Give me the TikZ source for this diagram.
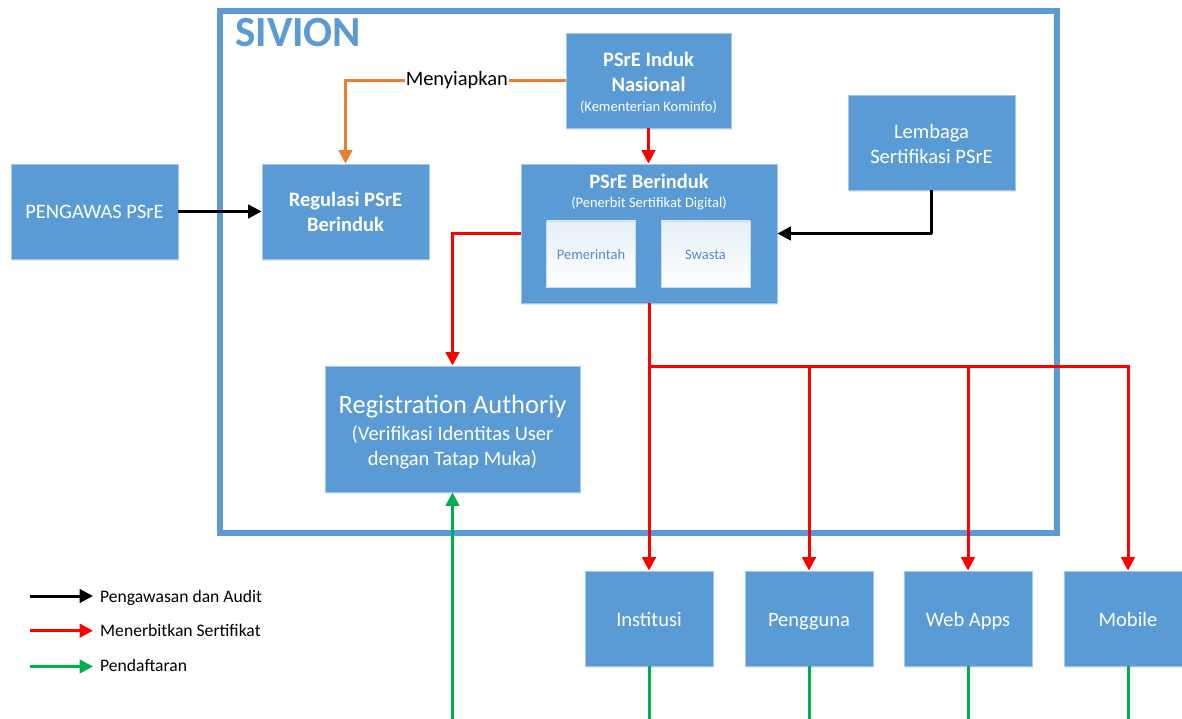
\documentclass[tikz,border=0pt]{standalone}
\usepackage{fontspec}
\setmainfont{Carlito}
\usetikzlibrary{arrows.meta,shadows}
\definecolor{boxblue}{HTML}{5B9BD5}
\definecolor{arred}{HTML}{FF0000}
\definecolor{argreen}{HTML}{00B050}
\definecolor{arorange}{HTML}{ED7D31}
\definecolor{innertext}{HTML}{5A88C8}
\begin{document}
\begin{tikzpicture}[x=1pt,y=-1pt,
  box/.style={rectangle, fill=boxblue, draw=boxblue!55!white, line width=0.8pt, text=white, align=center, inner sep=0pt,
    font=\fontsize{20.5}{25}\selectfont,
    drop shadow={shadow xshift=1.2pt,shadow yshift=-1.8pt,opacity=0.18}},
  bigbox/.style={box, minimum width=167pt, minimum height=95pt},
  onebox/.style={text height=20pt, text depth=5pt},
  tbox/.style={box, onebox, minimum width=128pt, minimum height=95pt},
  innerbox/.style={rectangle, top color=boxblue!16, bottom color=white, draw=boxblue!35, line width=0.6pt,
    text=innertext, font=\fontsize{14.5}{18}\selectfont, minimum width=89pt, minimum height=66pt, inner sep=0pt,
    text height=14pt, text depth=4pt},
  conn/.style={line width=3pt},
  tip/.style={-{Triangle[length=13.5pt,width=13.5pt]}},
  blk/.style={conn, black, line join=round},
  rd/.style={conn, arred},
  gr/.style={conn, argreen},
  org/.style={conn, arorange},
  legtext/.style={anchor=base west, inner sep=0pt, font=\fontsize{17.6}{20}\selectfont}
]
\useasboundingbox (0,0) rectangle (1182,719);

% frame
\node[draw=boxblue, line width=6pt, minimum width=836.7pt, minimum height=521.7pt, inner sep=0pt] (sivion) at (638.65,272.15) {};
\node[anchor=base west, inner sep=0pt, text=boxblue, font=\fontsize{43}{50}\selectfont\bfseries] (sivtitle) at (235,46.7) {SIVION};

% boxes
\node[bigbox, minimum width=165pt, font=\fontsize{20.5}{25}\selectfont\bfseries] (induk) at (648.5,80.5)
  {\rule{0pt}{18.6pt}PSrE Induk\\Nasional\\[-5pt]{\fontsize{14.5}{18}\selectfont\mdseries (Kementerian Kominfo)}};
\node[bigbox, font=\fontsize{20.5}{25}\selectfont\bfseries] (reg) at (345.5,211.5) {Regulasi PSrE\\Berinduk};
\node[bigbox, onebox] (peng) at (94.5,211.5) {PENGAWAS PSrE};
\node[bigbox] (lemb) at (931.5,142.5) {\rule{0pt}{18pt}Lembaga\\Sertifikasi PSrE};

\node[box, minimum width=256pt, minimum height=139pt] (ber) at (649,233.5) {};
\node[anchor=base, inner sep=0pt, text=white, font=\fontsize{20.5}{25}\selectfont\bfseries] (bertitle) at (649,189) {PSrE Berinduk};
\node[anchor=base, inner sep=0pt, text=white, font=\fontsize{14.5}{18}\selectfont] (bersub) at (649,208) {(Penerbit Sertifikat Digital)};
\node[innerbox] (pem) at (591,254) {Pemerintah};
\node[innerbox] (swa) at (705.5,254) {Swasta};

\node[box, minimum width=255pt, minimum height=126pt] (ra) at (452.5,429)
  {{\fontsize{26.5}{27}\selectfont\rule{0pt}{25pt}Registration Authoriy}\\[2pt](Verifikasi Identitas User\\dengan Tatap Muka)};

\node[tbox] (inst) at (649,618.5) {Institusi};
\node[tbox] (pgn) at (809,618.5) {Pengguna};
\node[tbox] (web) at (968,618.5) {Web Apps};
\node[tbox] (mob) at (1128,618.5) {Mobile};

% connectors
\draw[org, tip] (induk.west) -| node[pos=0.247, fill=white, text=black, inner sep=1pt, font=\fontsize{20.5}{25}\selectfont] (menyi) {Menyiapkan} (reg.north);
\draw[blk, tip] (peng.east) -- (reg.west);
\draw[blk, tip] (lemb.south) |- (ber.east);
\draw[rd, tip] (induk.south) -- (ber.north -| induk.south);
\draw[rd, tip] (ber.west) -| (ra.north);
\coordinate (bus) at (649,366);
\draw[rd, tip] (ber.south) -- (inst.north);
\draw[rd, tip] (bus) -| (pgn.north);
\draw[rd, tip] (bus) -| (web.north);
\draw[rd, tip] (bus) -| (mob.north);

\coordinate (gra) at (452.5,719);
\draw[gr, tip] (gra) -- (ra.south);
\coordinate (g1) at (649,719);
\coordinate (g2) at (809,719);
\coordinate (g3) at (968,719);
\coordinate (g4) at (1128,719);
\draw[gr] (inst.south) -- (g1);
\draw[gr] (pgn.south) -- (g2);
\draw[gr] (web.south) -- (g3);
\draw[gr] (mob.south) -- (g4);

% legend
\coordinate (la1) at (30,596);   \coordinate (lb1) at (93,596);
\coordinate (la2) at (30,630.7); \coordinate (lb2) at (93,630.7);
\coordinate (la3) at (30,666.5); \coordinate (lb3) at (93,666.5);
\draw[blk, tip] (la1) -- (lb1);
\draw[rd, tip] (la2) -- (lb2);
\draw[gr, tip] (la3) -- (lb3);
\node[legtext] (lt1) at (100,602.3) {Pengawasan dan Audit};
\node[legtext] (lt2) at (100,636.7) {Menerbitkan Sertifikat};
\node[legtext] (lt3) at (100,671.7) {Pendaftaran};
\end{tikzpicture}
\end{document}
